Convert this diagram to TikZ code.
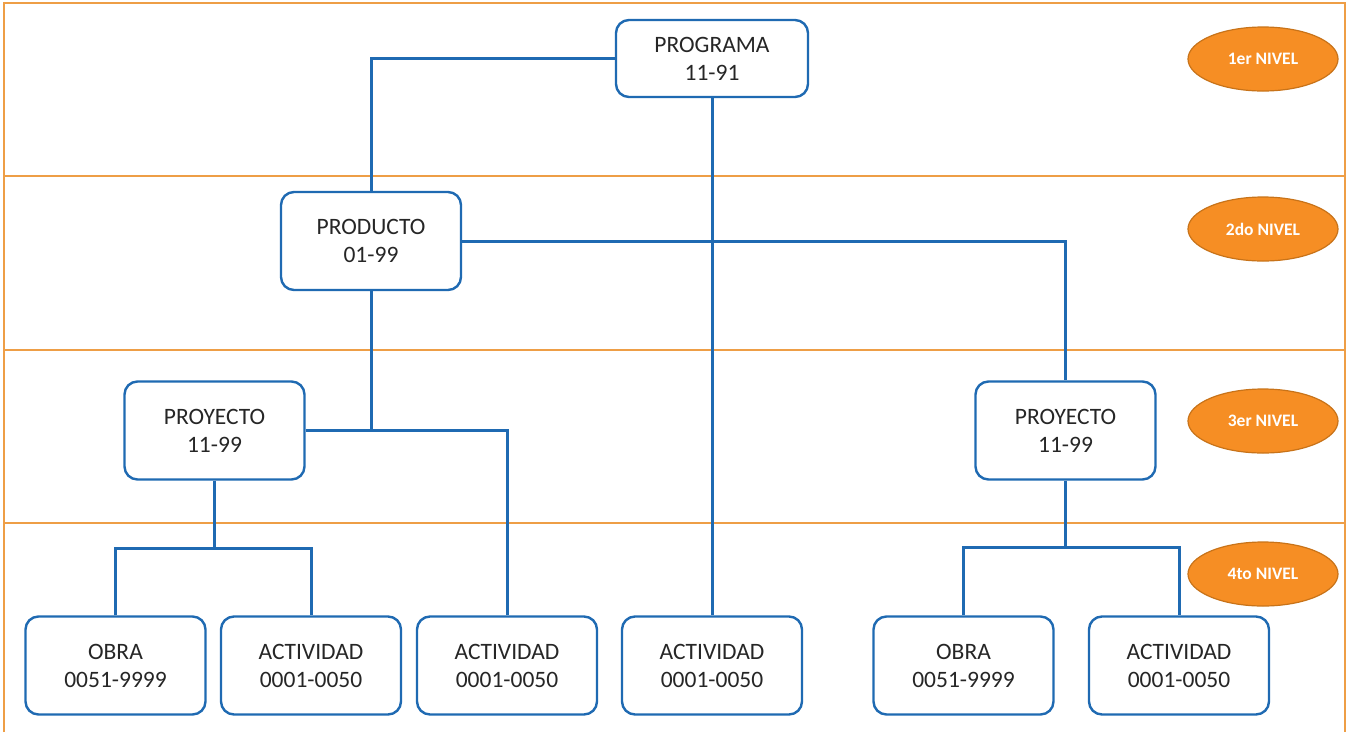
\documentclass[tikz,border=0pt]{standalone}
\usepackage{fontspec}
\setmainfont{Carlito}
\usetikzlibrary{shapes.geometric}
\definecolor{frameor}{RGB}{238,158,70}
\definecolor{boxblue}{RGB}{31,106,178}
\definecolor{ellor}{RGB}{246,142,36}
\definecolor{ellline}{RGB}{200,115,25}
\begin{document}
\begin{tikzpicture}[x=1pt,y=-1pt,
  unitbox/.style={draw=boxblue,line width=2.4pt,rounded corners=13pt,fill=white,
    minimum width=180pt,minimum height=98pt,align=center,
    font=\fontsize{23.5}{28}\selectfont,text=black!85},
  link/.style={draw=boxblue,line width=3pt},
  levelmark/.style={ellipse,draw=ellline,line width=1.2pt,fill=ellor,
    minimum width=150pt,minimum height=64pt,inner sep=0pt,
    font=\fontsize{17.5}{20}\selectfont\bfseries,text=white},
  bandline/.style={draw=frameor,line width=2pt}]
\useasboundingbox (0,0) rectangle (1347,732);
% frame
\draw[bandline] (4,732) -- (4,3) -- (1345,3) -- (1345,732);
\draw[bandline] (4,176) -- (1345,176);
\draw[bandline] (4,350) -- (1345,350);
\draw[bandline] (4,523) -- (1345,523);
% level markers
\node[levelmark] (n1) at (1263,59) {1er NIVEL};
\node[levelmark] (n2) at (1263,229) {2do NIVEL};
\node[levelmark] (n3) at (1263,421) {3er NIVEL};
\node[levelmark] (n4) at (1263,574) {4to NIVEL};
% boxes
\node[unitbox,minimum width=192pt,minimum height=77pt] (prog) at (712,58.5) {PROGRAMA\\11-91};
\node[unitbox] (prod) at (371,241) {PRODUCTO\\01-99};
\node[unitbox] (proyL) at (214.5,430.5) {PROYECTO\\11-99};
\node[unitbox] (proyR) at (1065.5,430.5) {PROYECTO\\11-99};
\node[unitbox] (obra1) at (115.5,665.5) {OBRA\\0051-9999};
\node[unitbox] (act1) at (311,665.5) {ACTIVIDAD\\0001-0050};
\node[unitbox] (act2) at (507,665.5) {ACTIVIDAD\\0001-0050};
\node[unitbox] (act3) at (712,665.5) {ACTIVIDAD\\0001-0050};
\node[unitbox] (obra2) at (963.5,665.5) {OBRA\\0051-9999};
\node[unitbox] (act4) at (1179,665.5) {ACTIVIDAD\\0001-0050};
% junctions
\coordinate (j1) at (prod.south |- proyL.east);
\coordinate (j2) at (214.5,548);
\coordinate (j3) at (1065.5,547);
% connectors
\draw[link] (prog.west) -| (prod.north);
\draw[link] (prog.south) -- (act3.north);
\draw[link] (prod.east) -| (proyR.north);
\draw[link] (prod.south) -- (j1);
\draw[link] (proyL.east) -- (j1) -| (act2.north);
\draw[link] (proyL.south) -- (j2);
\draw[link] (obra1.north) |- (j2) -| (act1.north);
\draw[link] (proyR.south) -- (j3);
\draw[link] (obra2.north) |- (j3) -| (act4.north);
\end{tikzpicture}
\end{document}
